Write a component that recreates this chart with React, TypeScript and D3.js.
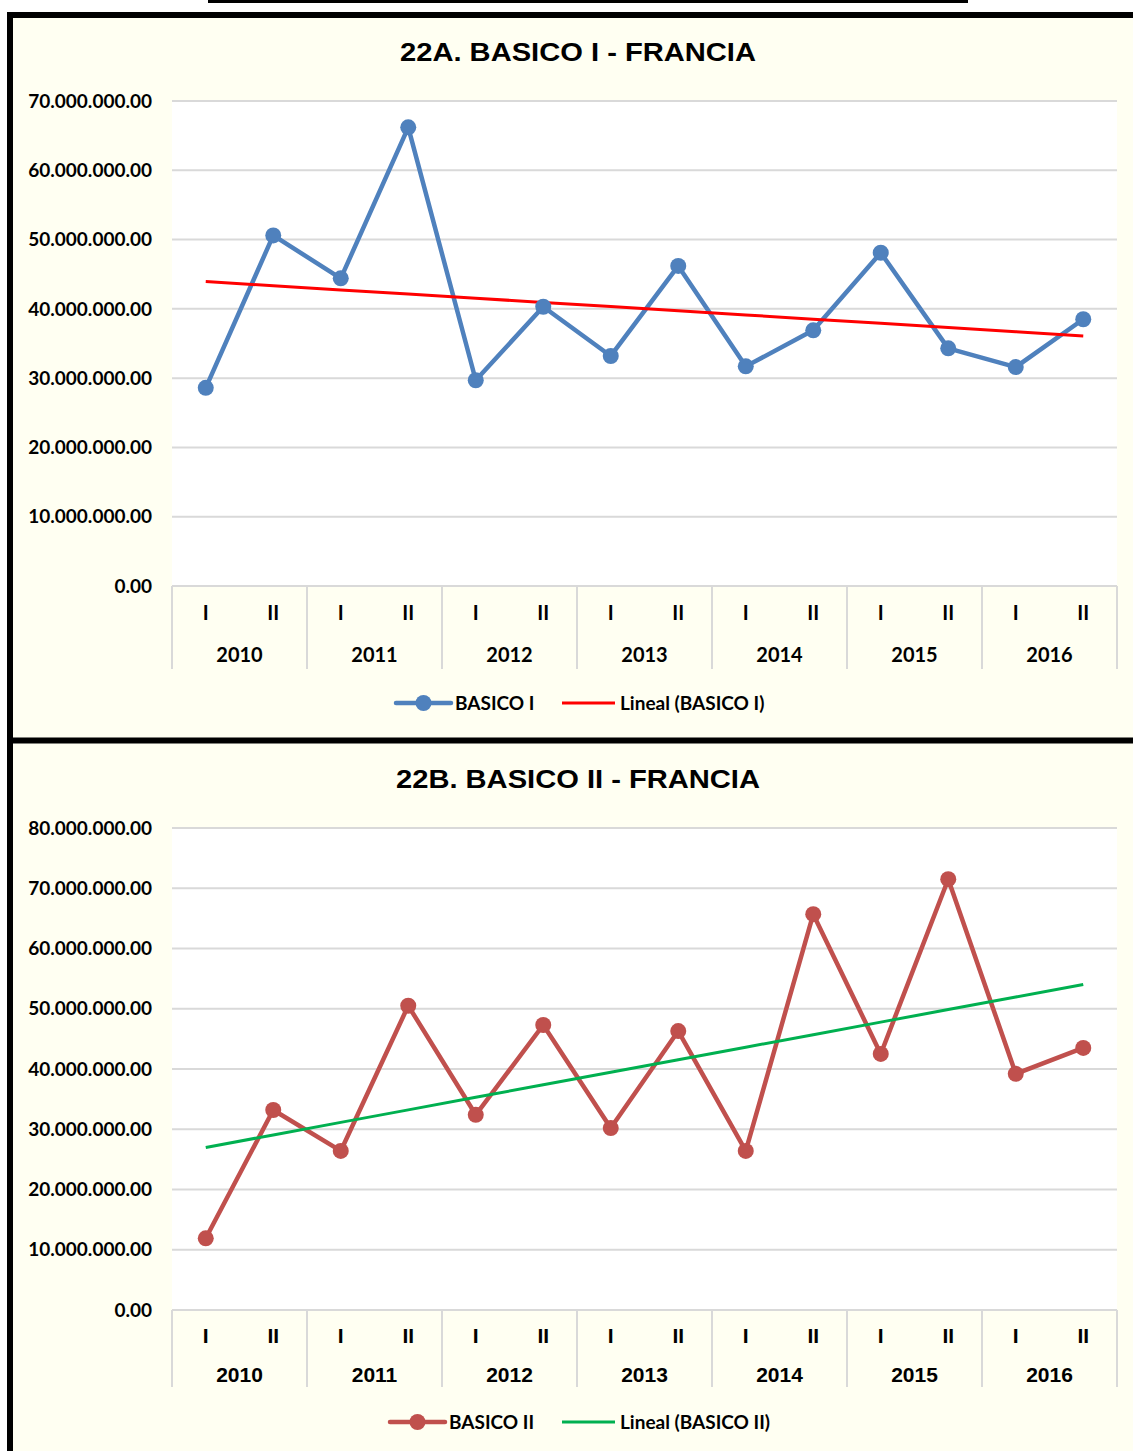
import React, { useEffect, useRef } from 'react';
import * as d3 from 'd3';

const years = ['2010', '2011', '2012', '2013', '2014', '2015', '2016'];
const halves = ['I', 'II'];
const basicoI = [28.6, 50.6, 44.4, 66.2, 29.7, 40.3, 33.2, 46.2, 31.7, 36.9, 48.1, 34.3, 31.6, 38.5].map((v) => v * 1e6);
const basicoII = [11.9, 33.2, 26.4, 50.5, 32.4, 47.3, 30.2, 46.3, 26.4, 65.7, 42.5, 71.5, 39.2, 43.5].map((v) => v * 1e6);
const ticksA = [0, 10, 20, 30, 40, 50, 60, 70].map((v) => v * 1e6);
const ticksB = [0, 10, 20, 30, 40, 50, 60, 70, 80].map((v) => v * 1e6);

const CALIBRI = 'Lato, "Open Sans", sans-serif';
const ARIAL = '"Liberation Sans", Arial, sans-serif';

function fmt(v: number) {
  if (v === 0) return '0.00';
  return d3.format(',')(v).replace(/,/g, '.') + '.00';
}

function trend(vals: number[]) {
  const n = vals.length;
  const xs = d3.range(n);
  const mx = d3.mean(xs)!;
  const my = d3.mean(vals)!;
  const b = d3.sum(xs, (x, i) => (x - mx) * (vals[i] - my)) / d3.sum(xs, (x) => (x - mx) ** 2);
  const a = my - b * mx;
  return xs.map((x) => a + b * x);
}

function drawChart(svg, o) {
  const g = svg.append('g');
  const keys = years.flatMap((y) => halves.map((h) => `${y}-${h}`));
  const x = d3.scaleBand().domain(keys).range([172, 1117]);
  const cx = (i) => x(keys[i])! + x.bandwidth() / 2;
  const y = d3.scaleLinear().domain([0, o.max]).range([o.bottom, o.top]);

  g.append('rect').attr('x', 172).attr('y', o.top).attr('width', 945).attr('height', o.bottom - o.top).attr('fill', '#ffffff');

  g.append('text')
    .attr('x', 578).attr('y', o.titleY)
    .attr('text-anchor', 'middle')
    .attr('textLength', o.titleW).attr('lengthAdjust', 'spacingAndGlyphs')
    .style('font-family', ARIAL).style('font-weight', 'bold').style('font-size', '25px')
    .text(o.title);

  g.selectAll('.grid').data(o.ticks).enter().append('line')
    .attr('x1', 172).attr('x2', 1117)
    .attr('y1', (d) => y(d)).attr('y2', (d) => y(d))
    .attr('stroke', '#d9d9d9').attr('stroke-width', 2);

  g.selectAll('.ytick').data(o.ticks).enter().append('text')
    .attr('x', 152).attr('y', (d) => y(d)).attr('dy', '0.35em')
    .attr('text-anchor', 'end')
    .style('font-family', CALIBRI).style('font-weight', 'bold').style('font-size', '19px')
    .text(fmt);

  // category axis box
  const seps = d3.range(0, keys.length + 1, 2).map((i) => (i < keys.length ? x(keys[i])! : 1117));
  g.selectAll('.sep').data(seps).enter().append('line')
    .attr('x1', (d) => d).attr('x2', (d) => d)
    .attr('y1', o.bottom).attr('y2', o.bottom + o.sepLen)
    .attr('stroke', '#d9d9d9').attr('stroke-width', 2);

  g.selectAll('.half').data(keys).enter().append('text')
    .attr('x', (d, i) => cx(i)).attr('y', o.bottom + o.halfDy).attr('dy', '0.35em')
    .attr('text-anchor', 'middle')
    .style('font-family', o.font).style('font-weight', 'bold').style('font-size', o.xSize)
    .text((d) => d.split('-')[1]);

  g.selectAll('.year').data(years).enter().append('text')
    .attr('x', (d, i) => (cx(i * 2) + cx(i * 2 + 1)) / 2).attr('y', o.bottom + o.yearDy).attr('dy', '0.35em')
    .attr('text-anchor', 'middle')
    .style('font-family', o.font).style('font-weight', 'bold').style('font-size', o.xSize)
    .text((d) => d);

  const line = d3.line<number>().x((d, i) => cx(i)).y((d) => y(d));
  g.append('path').attr('d', line(o.values)).attr('fill', 'none')
    .attr('stroke', o.color).attr('stroke-width', 4.5).attr('stroke-linejoin', 'round');

  g.append('path').attr('d', line(trend(o.values))).attr('fill', 'none')
    .attr('stroke', o.trendColor).attr('stroke-width', 3);

  g.selectAll('.dot').data(o.values).enter().append('circle')
    .attr('cx', (d, i) => cx(i)).attr('cy', (d) => y(d)).attr('r', 8)
    .attr('fill', o.color);

  // legend
  const ly = o.legendY;
  const lg = g.append('g');
  lg.append('line').attr('x1', o.legX).attr('x2', o.legX + 55).attr('y1', ly).attr('y2', ly)
    .attr('stroke', o.color).attr('stroke-width', 4.5).attr('stroke-linecap', 'round');
  lg.append('circle').attr('cx', o.legX + 27.5).attr('cy', ly).attr('r', 8).attr('fill', o.color);
  lg.append('text').attr('x', o.legX + 59).attr('y', ly).attr('dy', '0.35em')
    .style('font-family', CALIBRI).style('font-weight', 'bold').style('font-size', '19px')
    .text(o.name);
  lg.append('line').attr('x1', 562).attr('x2', 615).attr('y1', ly).attr('y2', ly)
    .attr('stroke', o.trendColor).attr('stroke-width', 3);
  lg.append('text').attr('x', 620).attr('y', ly).attr('dy', '0.35em')
    .style('font-family', CALIBRI).style('font-weight', 'bold').style('font-size', '19px')
    .text(`Lineal (${o.name})`);
}

export default function App() {
  const svgRef = useRef<SVGSVGElement>(null);

  useEffect(() => {
    const svg = d3.select(svgRef.current);
    svg.selectAll('*').remove();

    svg.append('rect').attr('width', 1133).attr('height', 1451).attr('fill', '#ffffff');
    svg.append('rect').attr('x', 208).attr('y', 0).attr('width', 760).attr('height', 3).attr('fill', '#000');
    // chart frames
    svg.append('rect').attr('x', 10).attr('y', 15).attr('width', 1140).attr('height', 726)
      .attr('fill', '#fffff2').attr('stroke', '#000').attr('stroke-width', 6);
    svg.append('rect').attr('x', 10).attr('y', 740.5).attr('width', 1140).attr('height', 730)
      .attr('fill', '#fffff2').attr('stroke', '#000').attr('stroke-width', 6);

    drawChart(svg, {
      title: '22A. BASICO I - FRANCIA', titleY: 61, titleW: 356, name: 'BASICO I',
      values: basicoI, ticks: ticksA, max: 70e6, top: 101, bottom: 586,
      color: '#4f81bd', trendColor: '#ff0000', font: CALIBRI, xSize: '20px',
      sepLen: 83, halfDy: 27, yearDy: 69, legendY: 703, legX: 396,
    });
    drawChart(svg, {
      title: '22B. BASICO II - FRANCIA', titleY: 788, titleW: 364, name: 'BASICO II',
      values: basicoII, ticks: ticksB, max: 80e6, top: 828, bottom: 1310,
      color: '#c0504d', trendColor: '#00b050', font: ARIAL, xSize: '21px',
      sepLen: 77, halfDy: 26, yearDy: 65, legendY: 1422, legX: 390,
    });
  }, []);

  return (
    <svg ref={svgRef} width={1133} height={1451} style={{ position: 'absolute', left: 0, top: 0 }} />
  );
}
